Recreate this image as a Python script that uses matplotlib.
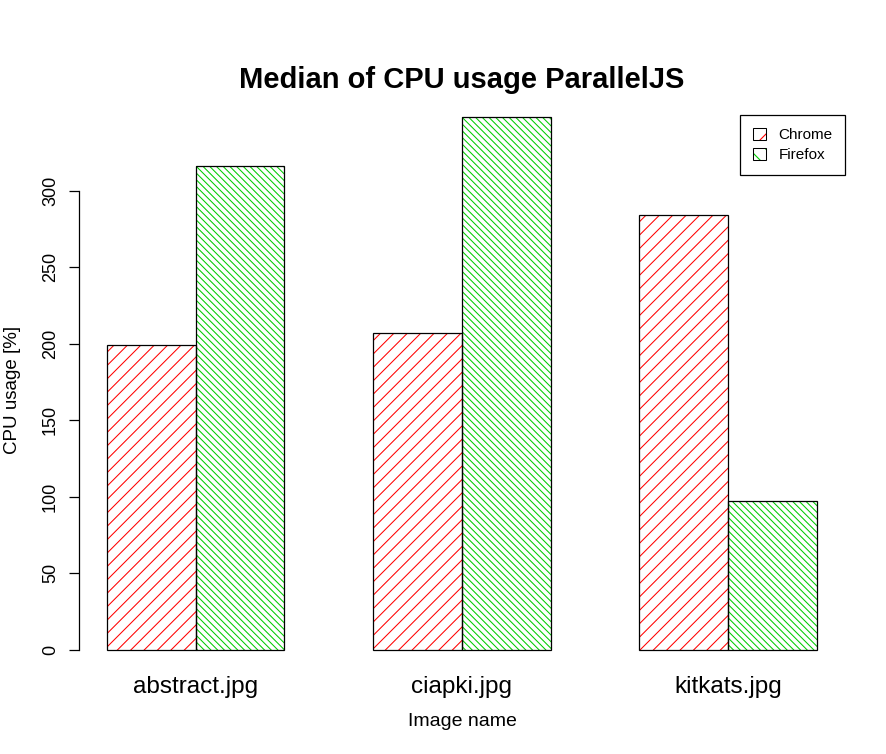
import numpy as np
import matplotlib
matplotlib.use("Agg")
import matplotlib.pyplot as plt
from matplotlib.collections import LineCollection
from matplotlib.patches import Patch
from matplotlib.legend_handler import HandlerTuple

# ---------------------------------------------------------
# Daten
# ---------------------------------------------------------
images = ["abstract.jpg", "ciapki.jpg", "kitkats.jpg"]
browsers = ["Chrome", "Firefox"]
chrome = [199, 207, 284]
firefox = [316, 348, 97]
yticks = [0, 50, 100, 150, 200, 250, 300]

colors = {"Chrome": "#FF0000", "Firefox": "#00CD00"}
hatch_step = {"Chrome": 13.4, "Firefox": 6.7}   # Pixelabstand horizontal
hatch_dir = {"Chrome": 1, "Firefox": -1}

plt.rcParams["font.family"] = ["Liberation Sans", "DejaVu Sans"]
plt.rcParams["hatch.linewidth"] = 0.8

W, H = 886, 754
fig = plt.figure(figsize=(W / 100, H / 100), dpi=100)
# Plotbereich wie bei R barplot (Pixel)
left, right, top, bottom = 78.6, 845.4, 95.7, 671.3
ax = fig.add_axes([left / W, 1 - bottom / H, (right - left) / W, (bottom - top) / H])

# Balkenpositionen wie barplot(beside=TRUE, space=c(0,1))
centers = np.arange(len(images)) * 3 + 2.0
x_chrome = centers - 0.5
x_firefox = centers + 0.5

lo, hi = 1.0, centers[-1] + 1.0
ax.set_xlim(lo - 0.04 * (hi - lo), hi + 0.04 * (hi - lo))
ymax = max(max(chrome), max(firefox))
ax.set_ylim(-0.04 * ymax, 1.04 * ymax)

bars = {
    "Chrome": ax.bar(x_chrome, chrome, width=1.0, color="white", edgecolor="none", zorder=1),
    "Firefox": ax.bar(x_firefox, firefox, width=1.0, color="white", edgecolor="none", zorder=1),
}


def hatch_bar(patch, color, step, direction):
    """Schraffur im Pixelraum (45°), auf den Balken geclippt."""
    (x0, y0), (x1, y1) = ax.transData.transform(
        [[patch.get_x(), patch.get_y()],
         [patch.get_x() + patch.get_width(), patch.get_y() + patch.get_height()]])
    if direction > 0:
        cmin, cmax = y0 - x1, y1 - x0
    else:
        cmin, cmax = y0 + x0, y1 + x1
    cs = np.arange(np.floor(cmin / step) * step, cmax + step, step)
    inv = ax.transData.inverted()
    segs = []
    for c in cs:
        pts = np.array([[x0 - 2, direction * (x0 - 2) + c],
                        [x1 + 2, direction * (x1 + 2) + c]])
        segs.append(inv.transform(pts))
    lc = LineCollection(segs, colors=color, linewidths=0.75, zorder=2)
    ax.add_collection(lc)
    lc.set_clip_path(patch)   # erst nach add_collection, sonst überschrieben


for b in browsers:
    for p in bars[b]:
        hatch_bar(p, colors[b], hatch_step[b], hatch_dir[b])

# Umrisse oben drauf
ax.bar(x_chrome, chrome, width=1.0, fill=False, edgecolor="black", linewidth=0.9, zorder=3)
ax.bar(x_firefox, firefox, width=1.0, fill=False, edgecolor="black", linewidth=0.9, zorder=3)

# Achsen
for s in ["top", "right", "bottom"]:
    ax.spines[s].set_visible(False)
ax.spines["left"].set_bounds(yticks[0], yticks[-1])
ax.spines["left"].set_linewidth(0.9)

ax.set_yticks(yticks)
ax.set_yticklabels([str(t) for t in yticks], rotation=90, va="center", fontsize=13)
ax.tick_params(axis="y", length=7.2, width=0.9, pad=7)

ax.set_xticks(centers)
ax.set_xticklabels(images, fontsize=17.5)
ax.tick_params(axis="x", length=0, pad=3.5)

fig.text(462 / W, 1 - 80 / H, "Median of CPU usage ParallelJS",
         fontsize=21, fontweight="bold", ha="center", va="center")
fig.text(462 / W, 1 - 722 / H, "Image name", fontsize=14, ha="center", va="center")
fig.text(13 / W, 1 - 390 / H, "CPU usage [%]", fontsize=13.5, rotation=90,
         ha="center", va="center")

# Legende
handles = []
for b in browsers:
    hatch = "/" if hatch_dir[b] > 0 else "\\\\"
    handles.append((Patch(facecolor="white", edgecolor=colors[b], hatch=hatch, linewidth=0),
                    Patch(facecolor="none", edgecolor="black", linewidth=0.75)))
leg = ax.legend(handles, browsers, handler_map={tuple: HandlerTuple(ndivide=1)},
                loc="upper right", bbox_to_anchor=(right / W, 1 - 115 / H),
                bbox_transform=fig.transFigure, borderaxespad=0, fancybox=False,
                framealpha=1, edgecolor="black", fontsize=11, handlelength=0.85,
                handleheight=0.8, handletextpad=0.8, labelspacing=0.4, borderpad=0.85)
leg.get_frame().set_linewidth(0.9)

fig.savefig("out.png", dpi=100)
